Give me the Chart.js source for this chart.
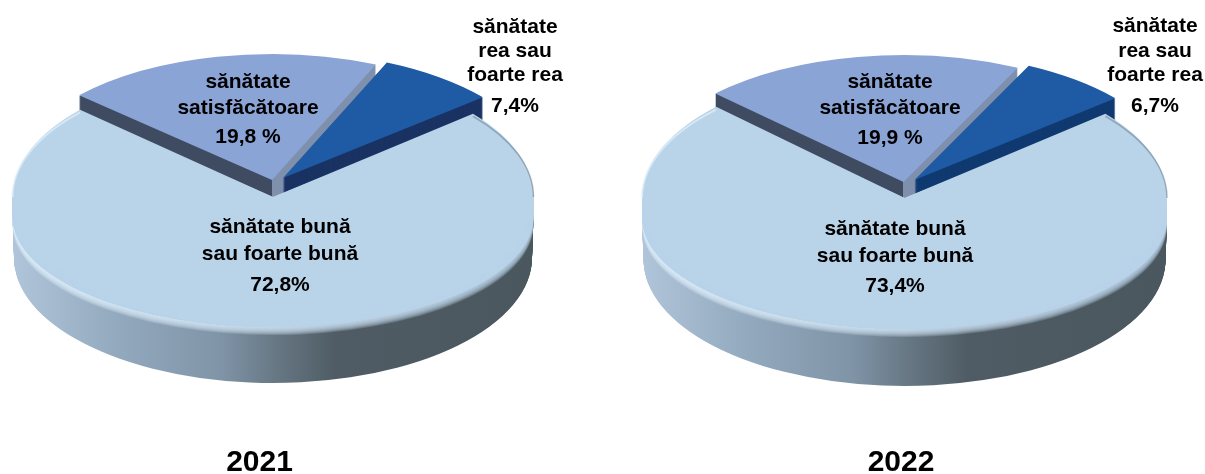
<!DOCTYPE html>
<html>
<head>
<meta charset="utf-8">
<script src="https://cdn.jsdelivr.net/npm/chart.js@4"></script>
<style>
    html, body { margin: 0; padding: 0; background: #fff; overflow: hidden; }
    canvas { position: absolute; top: 0; }
    #chart2021 { left: 0; }
    #chart2022 { left: 603px; }
</style>
</head>
<body>
<canvas id="chart2021" width="603" height="474"></canvas>
<canvas id="chart2022" width="602" height="474"></canvas>
<script>
const categories = ['sănătate rea sau foarte rea', 'sănătate bună sau foarte bună', 'sănătate satisfăcătoare'];
const values2021 = [7.4, 72.8, 19.8];
const values2022 = [6.7, 73.4, 19.9];
const valueLabels2021 = ['7,4%', '72,8%', '19,8 %'];
const valueLabels2022 = ['6,7%', '73,4%', '19,9 %'];
const labelLines = [
    ['sănătate', 'rea sau', 'foarte rea'],
    ['sănătate bună', 'sau foarte bună'],
    ['sănătate', 'satisfăcătoare']
];
const faceColors = ['#1f5aa5', '#b9d3e9', '#8ba4d6'];

const FONT = '"Liberation Sans", Arial, sans-serif';
const DEPTH = 57;

// look of each pie, in pixels of its own canvas
const look2021 = {
    rotation: 23.5, cx: 273, cy: 197, rx: 260.5, ry: 126,
    faceBottom: 327, faceSideY: 217, wallBottom: 383, wallSideY: 258,
    shifts: [[10, -19], [0, 0], [-1, -17]],
    darkWall: '#1a3363', titlePadRight: 84,
    labelX: [515, 280, 248],
    labelY: [[27, 51, 75, 106], [227, 254, 285], [82, 108, 137]]
};
const look2022 = {
    rotation: 25.8, cx: 301.5, cy: 198, rx: 262.5, ry: 127,
    faceBottom: 329, faceSideY: 218, wallBottom: 386, wallSideY: 260,
    shifts: [[10, -18], [0, 0], [-1, -16]],
    darkWall: '#103a70', titlePadRight: 6,
    labelX: [552, 292, 287],
    labelY: [[26, 51, 75, 106], [229, 256, 286], [82, 108, 138]]
};

function lerp(a, b, t) {
    return a + (b - a) * t;
}

// the path is built under the squash and stays in canvas pixels afterwards
function slicePath(ctx, arc, base, cx, cy, sx, sy) {
    ctx.save();
    ctx.translate(cx, cy);
    ctx.scale(sx, sy);
    ctx.translate(-base.x, -base.y);
    ctx.beginPath();
    ctx.moveTo(arc.x, arc.y);
    ctx.arc(arc.x, arc.y, arc.outerRadius, arc.startAngle, arc.endAngle);
    ctx.closePath();
    ctx.restore();
}

function rimPath(ctx, arc, base, look, from, to) {
    const r = arc.outerRadius;
    ctx.save();
    ctx.translate(look.cx, look.cy);
    ctx.scale(look.rx / r, look.ry / r);
    ctx.translate(-base.x, -base.y);
    ctx.beginPath();
    ctx.arc(arc.x, arc.y, r, from, to);
    ctx.restore();
}

function chartBase(chart) {
    const area = chart.chartArea;
    return { x: (area.left + area.right) / 2, y: (area.top + area.bottom) / 2 };
}

const pie3d = {
    id: 'pie3d',
    beforeDatasetsDraw(chart, args, opts) {
        const look = opts.look;
        const ctx = chart.ctx;
        const arcs = chart.getDatasetMeta(0).data;
        const base = chartBase(chart);
        const r = arcs[0].outerRadius;
        const sx = look.rx / r;
        const sy = look.ry / r;

        // pull the slices apart
        arcs.forEach((arc, i) => {
            arc.x = base.x + look.shifts[i][0] / sx;
            arc.y = base.y + look.shifts[i][1] / sy;
        });

        const left = look.cx - look.rx;
        const width = look.rx * 2;

        // satisfactory wall: dark cut on the left of the apex, lighter on the right
        const stop = (look.cx + look.shifts[2][0] - left) / width;
        const satWall = ctx.createLinearGradient(left, 0, left + width, 0);
        satWall.addColorStop(0, '#3f4b60');
        satWall.addColorStop(stop, '#3f4b60');
        satWall.addColorStop(stop, '#7f90ad');
        satWall.addColorStop(1, '#7f90ad');

        [[2, satWall], [0, look.darkWall]].forEach(([i, fill]) => {
            ctx.fillStyle = fill;
            for (let k = DEPTH; k >= 1; k--) {
                slicePath(ctx, arcs[i], base, look.cx, look.cy + k, sx, sy);
                ctx.fill();
            }
        });

        // big slice wall
        const bigWall = ctx.createLinearGradient(left, 0, left + width, 0);
        bigWall.addColorStop(0, '#b0c5da');
        bigWall.addColorStop(0.2, '#93a9bd');
        bigWall.addColorStop(0.4, '#7f94a7');
        bigWall.addColorStop(0.52, '#647480');
        bigWall.addColorStop(0.62, '#4f5c65');
        bigWall.addColorStop(1, '#4a575e');
        ctx.fillStyle = bigWall;
        const wallSteps = 60;
        for (let s = wallSteps; s >= 0; s--) {
            const t = s / wallSteps;
            const y = lerp(look.faceSideY, look.wallSideY, t);
            const bottom = lerp(look.faceBottom, look.wallBottom, t);
            slicePath(ctx, arcs[1], base, look.cx, y, lerp(look.rx, look.rx - 1.5, t) / r, (bottom - y) / r);
            ctx.fill();
        }

        // soft bevel under the top face
        const bevel = ctx.createLinearGradient(left, 0, left + width, 0);
        bevel.addColorStop(0, '#dff0fb');
        bevel.addColorStop(0.5, '#cfe3f3');
        bevel.addColorStop(1, '#b9d3e9');
        ctx.save();
        ctx.fillStyle = bevel;
        ctx.globalAlpha = 0.22;
        for (let k = 8; k >= 1; k--) {
            slicePath(ctx, arcs[1], base, look.cx, look.faceSideY + k, sx, (look.faceBottom - look.faceSideY) / r);
            ctx.fill();
        }
        ctx.restore();

        // face of the big slice runs on below its ellipse, the sides are nearly straight
        ctx.fillStyle = faceColors[1];
        for (let y = look.faceSideY; y >= look.cy; y--) {
            slicePath(ctx, arcs[1], base, look.cx, y, sx, (look.faceBottom - y) / r);
            ctx.fill();
        }

        // top faces are drawn by Chart.js inside this squashed space
        ctx.save();
        ctx.translate(look.cx, look.cy);
        ctx.scale(sx, sy);
        ctx.translate(-base.x, -base.y);
    },
    afterDatasetsDraw(chart, args, opts) {
        const look = opts.look;
        const ctx = chart.ctx;
        ctx.restore();

        // thin light rim on the upper left, faint dark one on the upper right
        const big = chart.getDatasetMeta(0).data[1];
        const base = chartBase(chart);
        ctx.save();
        ctx.lineWidth = 2;
        ctx.strokeStyle = 'rgba(226, 241, 251, 0.7)';
        rimPath(ctx, big, base, look, Math.PI, big.endAngle);
        ctx.stroke();
        ctx.lineWidth = 1.5;
        ctx.strokeStyle = 'rgba(95, 110, 122, 0.45)';
        rimPath(ctx, big, base, look, big.startAngle, 0);
        ctx.stroke();
        ctx.restore();

        ctx.save();
        ctx.fillStyle = '#000';
        ctx.font = 'bold 21px ' + FONT;
        ctx.textAlign = 'center';
        ctx.textBaseline = 'middle';
        labelLines.forEach((lines, i) => {
            const rows = lines.concat(opts.valueLabels[i]);
            rows.forEach((text, j) => {
                ctx.fillText(text, look.labelX[i], look.labelY[i][j]);
            });
        });
        ctx.restore();
    }
};

function makePie(id, year, values, valueLabels, look) {
    return new Chart(document.getElementById(id), {
        type: 'pie',
        data: {
            labels: categories,
            datasets: [{
                data: values,
                backgroundColor: faceColors,
                borderWidth: 0
            }]
        },
        options: {
            responsive: false,
            animation: false,
            devicePixelRatio: 1,
            rotation: look.rotation,
            layout: { padding: { right: look.titlePadRight } },
            plugins: {
                legend: { display: false },
                tooltip: { enabled: false },
                title: {
                    display: true,
                    text: year,
                    position: 'bottom',
                    color: '#000',
                    font: { family: FONT, size: 30, weight: 'bold' },
                    padding: { top: 0, bottom: -7 }
                },
                pie3d: { look: look, valueLabels: valueLabels }
            }
        },
        plugins: [pie3d]
    });
}

makePie('chart2021', '2021', values2021, valueLabels2021, look2021);
makePie('chart2022', '2022', values2022, valueLabels2022, look2022);
</script>
</body>
</html>
